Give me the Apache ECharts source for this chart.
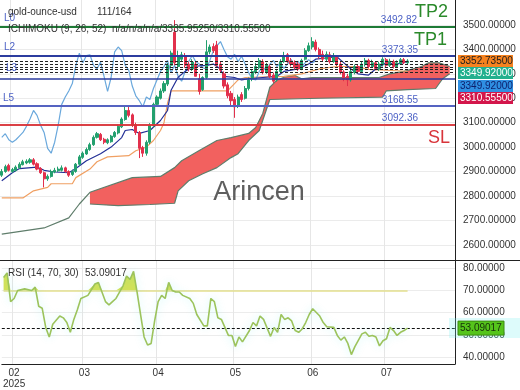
<!DOCTYPE html>
<html><head><meta charset="utf-8">
<script src="https://cdn.jsdelivr.net/npm/echarts@6/dist/echarts.min.js"></script>
<style>html,body{margin:0;padding:0;background:#fff}#c{width:520px;height:390px}</style>
</head><body><div id="c"></div>
<script>
// ---------- DATA ----------
const categoryCount = 129;
const categories = [];
(function(){ const d = new Date(Date.UTC(2025,0,29));
  while (categories.length < categoryCount) { const w = d.getUTCDay();
    if (w !== 0 && w !== 6) categories.push(d.toISOString().slice(0,10));
    d.setUTCDate(d.getUTCDate()+1); } })();

const opens = [2885,2900,2925,2900,2905,2915,2928,2935,2938,2948,
 2932,2912,2895,2870,2880,2898,2903,2905,2915,2900,
 2888,2900,2930,2958,2972,2990,3010,3040,3052,3032,
 3018,3022,3043,3058,3083,3113,3150,3132,3092,3060,
 2998,2975,3020,3088,3175,3200,3230,3258,3335,3470,
 3330,3360,3375,3340,3320,3340,3280,3235,3285,3390,
 3412,3418,3340,3300,3255,3220,3195,3170,3215,3200,
 3240,3280,3305,3325,3350,3305,3330,3295,3275,3310,
 3350,3378,3352,3345,3340,3320,3360,3395,3410,3430,
 3400,3380,3360,3378,3350,3368,3340,3308,3290,3275,
 3305,3330,3310,3338,3355,3330,3345,3320,3338,3358,
 3335,3350,3330,3342,3358,3345];
const closes = [2900,2920,2905,2908,2918,2930,2940,2942,2948,2930,
 2910,2895,2870,2880,2900,2905,2910,2915,2900,2885,
 2900,2930,2960,2975,2990,3010,3040,3055,3030,3020,
 3030,3045,3060,3085,3115,3150,3130,3090,3060,2995,
 2975,3020,3090,3175,3205,3230,3260,3335,3385,3345,
 3375,3378,3335,3320,3348,3290,3228,3285,3390,3410,
 3395,3335,3315,3250,3210,3190,3165,3205,3195,3240,
 3275,3310,3330,3355,3305,3335,3290,3270,3310,3350,
 3375,3350,3340,3325,3320,3355,3395,3415,3432,3400,
 3370,3360,3380,3350,3372,3340,3305,3280,3275,3310,
 3330,3310,3340,3355,3330,3345,3322,3340,3360,3335,
 3352,3330,3345,3358,3345,3352.735];
const highs = [2910,2928,2932,2915,2925,2938,2948,2950,2955,2955,
 2938,2918,2900,2888,2908,2915,2920,2925,2920,2905,
 2908,2935,2968,2982,2998,3018,3048,3062,3058,3038,
 3036,3050,3066,3092,3122,3165,3168,3138,3100,3066,
 3005,3028,3098,3182,3212,3240,3270,3345,3395,3520,
 3395,3390,3385,3350,3360,3352,3300,3290,3438,3420,
 3425,3435,3350,3310,3265,3230,3205,3215,3225,3250,
 3285,3320,3345,3365,3360,3345,3338,3305,3320,3360,
 3390,3385,3365,3355,3350,3362,3405,3428,3450,3440,
 3408,3395,3392,3390,3385,3375,3348,3315,3300,3318,
 3338,3340,3350,3365,3362,3358,3352,3350,3368,3365,
 3362,3358,3355,3365,3365,3360];
const lows = [2878,2895,2900,2895,2900,2912,2925,2930,2932,2925,
 2905,2890,2835,2862,2875,2893,2898,2900,2895,2878,
 2882,2895,2925,2952,2968,2985,3005,3035,3025,3012,
 3012,3018,3038,3052,3078,3108,3122,3082,3050,2955,
 2960,2965,3012,3080,3168,3195,3222,3250,3322,3335,
 3320,3350,3325,3310,3312,3290,3215,3230,3280,3380,
 3385,3330,3305,3240,3200,3170,3120,3160,3185,3195,
 3232,3270,3300,3318,3298,3300,3282,3262,3268,3305,
 3345,3345,3330,3318,3312,3315,3355,3390,3400,3392,
 3362,3350,3352,3342,3345,3332,3298,3270,3250,3268,
 3298,3302,3305,3330,3322,3325,3315,3312,3330,3328,
 3328,3322,3325,3338,3340,3340];

const tenkan = [[0,2862],[3,2895],[5,2912],[10,2918],[12,2905],[15,2898],[19,2895],[21,2912],[24,2944],[28,2973],[31,3000],[34,3039],[35,3068],[37,3072],[39,3056],[42,3068],[45,3109],[47,3150],[48,3233],[50,3286],[52,3310],[54,3330],[58,3335],[60,3340],[62,3320],[63,3290],[66,3285],[68,3275],[70,3280],[74,3285],[78,3290],[80,3310],[84,3320],[87,3340],[89,3360],[92,3365],[95,3370],[97,3345],[99,3320],[101,3300],[104,3295],[106,3320],[109,3345],[112,3340],[115,3349.92]];
const kijun = [[0,2792],[6,2792],[9,2821],[13,2835],[14,2850],[20,2850],[21,2875],[25,2910],[27,2940],[30,2960],[36,2965],[38,2985],[41,3000],[43,3027],[45,3068],[46,3100],[47,3180],[48,3230],[64,3230],[66,3260],[67,3275],[69,3285],[80,3290],[85,3300],[90,3320],[95,3330],[100,3330],[104,3318],[115,3310.555]];
const chikouShift = 26;
const cloudTop = [[0,2644],[12,2669],[19,2710],[22,2767],[25,2815],[37,2875],[45,2880],[49,2916],[51,2944],[56,2986],[61,3027],[65,3039],[70,3056],[72,3080],[74,3138],[76,3245],[78,3274],[80,3286],[83,3294],[85,3280],[88,3285],[107,3285],[110,3300],[114,3310],[119,3330],[121,3345],[124,3345],[127,3330]];
const cloudBottom = [[25,2767],[33,2760],[42,2765],[49,2770],[50,2821],[53,2862],[57,2891],[61,2916],[65,2957],[67,2973],[70,3027],[73,3068],[74,3110],[76,3195],[90,3200],[108,3205],[109,3230],[115,3235],[123,3240],[125,3280],[127,3300]];

const rsi = [[0,75.8],[1,77.9],[2,65],[3,66.4],[4,70],[6,70.7],[8,70],[9,71.5],[10,62.9],[11,62],[12,53.4],[13,49.1],[14,54.8],[16,58.5],[17,57.7],[18,55.6],[19,51.2],[20,57],[21,61.3],[22,66.4],[24,67.8],[26,72.9],[27,73.6],[28,69.3],[29,65],[30,63.5],[31,65],[32,66.4],[34,72.1],[35,76.5],[36,75],[37,78.6],[38,69.3],[39,59.2],[40,49.1],[41,45.5],[42,46.2],[43,56.3],[44,65],[45,67.8],[46,66.4],[47,73.6],[48,70],[49,69.3],[50,69.3],[51,67.8],[53,66.4],[54,64.2],[55,59.2],[57,54.1],[58,54.1],[59,66.4],[60,65],[61,57.7],[62,57],[64,49.8],[65,49.8],[66,44.8],[67,49.1],[68,46.9],[70,52],[71,55.6],[72,54.1],[73,58.5],[74,57],[76,49.4],[77,53.4],[78,51.2],[79,59.2],[80,57],[81,57.7],[82,56.3],[83,52],[84,51.2],[85,52.7],[86,55.6],[87,59.2],[88,61.8],[90,58.5],[91,55.6],[92,53.7],[94,53.4],[95,49.8],[96,47.7],[97,49.1],[98,46.2],[99,41.2],[100,44.8],[102,50.5],[103,51.2],[104,49.4],[105,49.8],[106,49.1],[107,45.1],[108,47.4],[109,48.3],[110,53.4],[111,52],[112,49.8],[113,51.2],[114,52],[115,53.09017]];
const rsiUpper = 70;
const rsiLast = 53.09017;

const priceTicks = [2600,2700,2800,2900,3000,3100,3200,3300,3400,3500];
const rsiTicks = [40,50,60,70,80];
const dashedLevels = [3350,3339,3328,3317,3305];
const tp2 = 3492.82, tp1 = 3373.35, l4 = 3278, l5 = 3168.55, sl = 3092.36;
const priceTags = [
  {v:3352.735, bg:'#f6821f', fg:'#1d1d1d'},
  {v:3349.92,  bg:'#22b08e', fg:'#ffffff'},
  {v:3349.92,  bg:'#2f8fe2', fg:'#0d1f6a'},
  {v:3310.555, bg:'#d3164b', fg:'#ffffff'}
];

// ---------- BUILD ----------
const FONT = 'Liberation Sans, Arial, sans-serif';
const FS = 10;
const candles = opens.map((o,i)=>[o, closes[i], lows[i], highs[i]]);
const chikou = closes.slice(chikouShift).map((c,i)=>[i,c]);
const rsiBase = rsi.map(p=>[p[0], rsiUpper]);
const rsiOver = rsi.map(p=>[p[0], Math.max(p[1]-rsiUpper, 0)]);
const isMonthStart = (idx) => idx > 0 && categories[idx].slice(5,7) !== categories[idx-1].slice(5,7);

function lvl(v, color, width, type, label) {
  return { yAxis: v, lineStyle: {color, width, type: type || 'solid'}, label: label || {show:false} };
}
const blueTxt = '#4d62c6';
const markData = [
  lvl(tp2, '#1e7b36', 2, 'solid', {show:true, position:'insideEndTop', formatter:String(tp2), color:blueTxt, fontSize:FS, fontFamily:FONT, distance:2, padding:[0,36,0,0]}),
  lvl(tp2, '#1e7b36', 2, 'solid', {show:true, position:'insideEndTop', formatter:'TP2', color:'#2b8a2b', fontSize:18, fontFamily:FONT, distance:6, padding:[0,1,0,0]}),
  lvl(tp2, '#1e7b36', 2, 'solid', {show:true, position:'insideStartTop', formatter:'L0', color:blueTxt, fontSize:FS, fontFamily:FONT, distance:4}),
  lvl(tp1, '#2a3a9e', 1.5, 'solid', {show:true, position:'insideEndTop', formatter:String(tp1), color:blueTxt, fontSize:FS, fontFamily:FONT, distance:1, padding:[0,36,0,0]}),
  lvl(tp1, '#2a3a9e', 1.5, 'solid', {show:true, position:'insideEndTop', formatter:'TP1', color:'#2b8a2b', fontSize:18, fontFamily:FONT, distance:7, padding:[0,1,0,0]}),
  lvl(tp1, '#2a3a9e', 1.5, 'solid', {show:true, position:'insideStartTop', formatter:'L2', color:blueTxt, fontSize:FS, fontFamily:FONT, distance:4}),
  ...dashedLevels.map(v => lvl(v, '#222', 1, [3,2])),
  lvl(l4, '#2a3a9e', 1.5, 'solid', {show:true, position:'insideStartTop', formatter:'L3', color:blueTxt, fontSize:FS, fontFamily:FONT, distance:6}),
  lvl(l5, '#5563c1', 2, 'solid', {show:true, position:'insideEndTop', formatter:String(l5), color:blueTxt, fontSize:FS, fontFamily:FONT, distance:1, padding:[0,36,0,0]}),
  lvl(l5, '#5563c1', 2, 'solid', {show:true, position:'insideStartTop', formatter:'L5', color:blueTxt, fontSize:FS, fontFamily:FONT, distance:3}),
  lvl(sl, '#d8343a', 1.5, 'solid', {show:true, position:'insideEndTop', formatter:String(sl), color:blueTxt, fontSize:FS, fontFamily:FONT, distance:1, padding:[0,36,0,0]}),
  lvl(sl, '#d8343a', 1.5, 'solid', {show:true, position:'insideEndBottom', formatter:'SL', color:'#d8343a', fontSize:18, fontFamily:FONT, distance:4, padding:[0,1,0,0]})
];

const option = {
  animation: false,
  backgroundColor: '#fff',
  grid: [
    {left:0, top:0, width:455, height:260},
    {left:0, top:260, width:455, height:108}
  ],
  xAxis: [
    {gridIndex:0, type:'category', data:categories, boundaryGap:true,
     axisLine:{show:false}, axisTick:{show:false}, axisLabel:{show:false},
     splitLine:{show:true, interval:(i)=>isMonthStart(i), lineStyle:{color:'#e6e6e6'}}},
    {gridIndex:1, type:'category', data:categories, boundaryGap:true,
     axisLine:{show:true, lineStyle:{color:'#222'}},
     axisTick:{show:false},
     axisLabel:{show:true, interval:(i)=>isMonthStart(i), color:'#333', fontSize:FS, fontFamily:FONT, margin:4, lineHeight:11,
       formatter:(val)=>{ const m = val.slice(5,7); return m === '02' ? m + '\n' + val.slice(0,4) : m; }},
     splitLine:{show:true, interval:(i)=>isMonthStart(i), lineStyle:{color:'#e6e6e6'}}}
  ],
  yAxis: [
    {gridIndex:0, type:'value', position:'right', min:2537.7, max:3602.4, scale:true,
     axisLine:{show:true, lineStyle:{color:'#222'}},
     axisTick:{show:false, customValues:priceTicks},
     axisLabel:{customValues:priceTicks, formatter:(v)=>v.toFixed(5), color:'#333', fontSize:FS, fontFamily:FONT, margin:8},
     splitLine:{show:true, lineStyle:{color:'#ebebeb'}}},
    {gridIndex:1, type:'value', position:'right', min:36.97, max:83.68, scale:true,
     axisLine:{show:true, lineStyle:{color:'#222'}},
     axisTick:{show:false, customValues:rsiTicks},
     axisLabel:{customValues:rsiTicks, formatter:(v)=>v.toFixed(5), color:'#333', fontSize:FS, fontFamily:FONT, margin:8},
     splitLine:{show:true, lineStyle:{color:'#ececec'}}}
  ],
  series: [
    {type:'custom', name:'cloud', xAxisIndex:0, yAxisIndex:0, z:1, silent:true, data:[0],
     renderItem:(params, api)=>{
       const top = cloudTop.filter(p=>p[0] >= cloudBottom[0][0]).map(p=>api.coord(p));
       const bot = cloudBottom.slice().reverse().map(p=>api.coord(p));
       return {type:'polygon', shape:{points: top.concat(bot)}, style:{fill:'#f2615f'}};
     }},
    {type:'line', name:'spanTop', xAxisIndex:0, yAxisIndex:0, data:cloudTop, showSymbol:false, z:2, silent:true,
     lineStyle:{color:'#5f7d6b', width:1.2}},
    {type:'line', name:'spanBottom', xAxisIndex:0, yAxisIndex:0, data:cloudBottom, showSymbol:false, z:2, silent:true,
     lineStyle:{color:'#5f7d6b', width:1.2}},
    {type:'line', name:'kijun', xAxisIndex:0, yAxisIndex:0, data:kijun, showSymbol:false, z:3, silent:true,
     lineStyle:{color:'#f0a063', width:1.2}},
    {type:'line', name:'chikou', xAxisIndex:0, yAxisIndex:0, data:chikou, showSymbol:false, z:3, silent:true,
     lineStyle:{color:'#6aa8dc', width:1.2}},
    {type:'line', name:'tenkan', xAxisIndex:0, yAxisIndex:0, data:tenkan, showSymbol:false, z:3, silent:true,
     lineStyle:{color:'#232f96', width:1.2}},
    {type:'candlestick', name:'gold', xAxisIndex:0, yAxisIndex:0, data:candles, z:4, barWidth:2.6,
     itemStyle:{color:'#23a06e', color0:'#e2304c', borderColor:'#23a06e', borderColor0:'#e2304c', borderWidth:1},
     markLine:{silent:true, symbol:['none','none'], animation:false, data:markData}},
    {type:'line', name:'rsiBase', xAxisIndex:1, yAxisIndex:1, data:rsiBase, stack:'rsi', showSymbol:false, silent:true,
     lineStyle:{width:0, opacity:0}},
    {type:'line', name:'rsiOver', xAxisIndex:1, yAxisIndex:1, data:rsiOver, stack:'rsi', showSymbol:false, silent:true,
     lineStyle:{width:0, opacity:0}, areaStyle:{color:'#d2df45', opacity:0.9}},
    {type:'line', name:'rsi', xAxisIndex:1, yAxisIndex:1, data:rsi, showSymbol:false, silent:true, z:5,
     lineStyle:{color:'#9cc35c', width:1.6, shadowColor:'rgba(0,225,225,0.25)', shadowBlur:8},
     markLine:{silent:true, symbol:['none','none'], animation:false, label:{show:false},
       data:[
         [{coord:[0, rsiUpper], lineStyle:{color:'#e3df8e', width:1.5, type:'solid'}}, {coord:[rsi[rsi.length-1][0], rsiUpper]}],
         {yAxis: rsiLast, lineStyle:{color:'#111', width:1, type:[3,2]}}
       ]}}
  ]
};

const chart = echarts.init(document.getElementById('c'));
chart.setOption(option);

// ---------- overlays (texts + value tags) ----------
const g = [];
const T = (text, x, y, size, color) => ({type:'text', x, y, z:100,
  style:{text, fontSize:size, fontFamily:FONT, fill:color, textVerticalAlign:'middle'}});
g.push(T('gold-ounce-usd', 8, 12.5, FS, '#333'));
g.push(T('111/164', 97, 12.5, FS, '#333'));
g.push(T('ICHIMOKU (9, 26, 52)', 8, 29, FS, '#333'));
g.push(T('n/a/n/a/n/a/3335.95250/3310.55500', 112, 29, FS, '#333'));
g.push(T('RSI (14, 70, 30)', 8, 273, FS, '#333'));
g.push(T(rsiLast.toFixed(5), 85, 273, FS, '#333'));
g.push({type:'text', x:259, y:193, z:90, style:{text:'Arincen', fontSize:27, fontFamily:FONT, fill:'#5e5e5e', textAlign:'center', textVerticalAlign:'middle'}});
g.push({type:'line', z:100, shape:{x1:0, y1:260.5, x2:520, y2:260.5}, style:{stroke:'#222', lineWidth:1}});

let prevY = -Infinity;
priceTags.forEach(t=>{
  let y = chart.convertToPixel({yAxisIndex:0}, t.v);
  if (y < prevY + 12.5) y = prevY + 12.5;
  prevY = y;
  g.push({type:'rect', z:110, shape:{x:458, y:Math.round(y-6), width:55, height:12}, style:{fill:t.bg}});
  g.push({type:'text', z:111, x:460, y:Math.round(y-6)+6, style:{text:t.v.toFixed(5), fontSize:FS, fontFamily:FONT, fill:t.fg, textVerticalAlign:'middle'}});
});
const ry = chart.convertToPixel({yAxisIndex:1}, rsiLast);
g.push({type:'rect', z:109, shape:{x:449, y:ry-10, width:71, height:20}, style:{fill:'rgba(120,240,240,0.25)'}});
g.push({type:'rect', z:110, shape:{x:458, y:ry-7, width:46, height:14}, style:{fill:'#55c41b', stroke:'#3a8a10', lineWidth:1}});
g.push({type:'text', z:111, x:460, y:ry, style:{text:rsiLast.toFixed(5), fontSize:FS, fontFamily:FONT, fill:'#15300a', textVerticalAlign:'middle'}});
chart.setOption({graphic: g});
</script>
</body></html>
